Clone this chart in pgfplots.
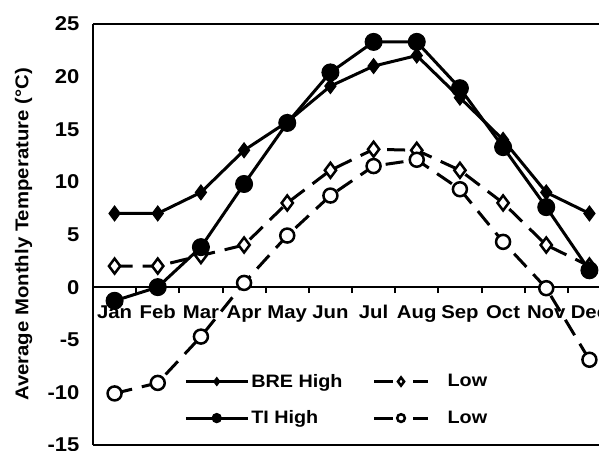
\documentclass[border=0pt]{standalone}
\usepackage{fontspec}
\setmainfont{Liberation Sans}[FakeStretch=1.1]
\usepackage{pgfplots}
\pgfplotsset{compat=1.18}
\pgfplotsset{dashlegend/.style={legend image code/.code={\draw[mark repeat=2,mark phase=2,##1,dash pattern=on 19pt off 20pt] plot coordinates {(0pt,0pt) (27pt,0pt) (54pt,0pt)};}}}
\begin{document}
\begin{tikzpicture}
\useasboundingbox (-93pt,-5pt) rectangle (506pt,445pt);
\clip (-93pt,-5pt) rectangle (506pt,445pt);
\begin{axis}[
 at={(0pt,0pt)}, anchor=south west,
 scale only axis, width=518pt, height=421pt,
 xmin=-0.5, xmax=11.5, ymin=-15, ymax=25,
 axis y line*=left, axis x line*=middle,
 axis line style={line width=2.5pt, black},
 /pgf/number format/assume math mode=true,
 xtick={0,...,11},
 xticklabels={Jan,Feb,Mar,Apr,May,Jun,Jul,Aug,Sep,Oct,Nov,Dec},
 minor xtick={0.5,1.5,...,10.5},
 major tick length=0pt, minor tick length=6pt,
 minor tick style={line width=2pt, black},
 tick align=outside,
 ytick={-15,-10,...,25},
 xticklabel style={font=\bfseries\fontsize{18.5}{20}\selectfont, text height=13pt, text depth=4pt, yshift=-15pt},
 yticklabel style={font=\bfseries\fontsize{20}{22}\selectfont, xshift=-10pt},
 ylabel={Average Monthly Temperature (°C)},
 ylabel style={font=\bfseries\fontsize{18.5}{21}\selectfont, at={(axis description cs:-0.134,0.5)}, anchor=center},
 legend columns=2,
 legend cell align=left,
 legend style={at={(rel axis cs:0.17,0.178)}, anchor=north west, draw=none, fill=none,
   font=\bfseries\fontsize{18}{20}\selectfont, row sep=18pt,
   /tikz/column 2/.style={column sep=28pt},
   /tikz/column 3/.style={column sep=16pt}},
 legend image code/.code={\draw[mark repeat=2,mark phase=2,#1] plot coordinates {(0pt,0pt) (31pt,0pt) (62pt,0pt)};},
 legend image post style={/tikz/every mark/.append style={scale=0.55}},
]
\draw[line width=2.5pt] (rel axis cs:0,1) -- (rel axis cs:1,1);
\draw[line width=2.5pt] (rel axis cs:0,0) -- (rel axis cs:1,0);
\addplot[black, line width=3pt, mark=diamond*, mark size=7.5pt, mark options={solid, fill=black, line width=1pt}]
 coordinates {(0,7) (1,7) (2,9) (3,13) (4,15.7) (5,19.1) (6,21) (7,22) (8,18) (9,14) (10,9) (11,7)};
\addlegendentry{BRE High}
\addplot[black, line width=3pt, dash pattern=on 18pt off 10pt, mark=diamond*, mark size=7.5pt, mark options={solid, fill=white, line width=2.5pt}, dashlegend]
 coordinates {(0,2) (1,2) (2,3) (3,4) (4,8) (5,11.1) (6,13.1) (7,13) (8,11.1) (9,8) (10,4) (11,2)};
\addlegendentry{Low}
\addplot[black, line width=3pt, mark=*, mark size=8.5pt, mark options={solid, fill=black, line width=1pt}]
 coordinates {(0,-1.3) (1,0) (2,3.8) (3,9.8) (4,15.6) (5,20.4) (6,23.3) (7,23.3) (8,18.9) (9,13.3) (10,7.6) (11,1.6)};
\addlegendentry{TI High}
\addplot[black, line width=3pt, dash pattern=on 18pt off 10pt, mark=*, mark size=7pt, mark options={solid, fill=white, line width=2.5pt}, dashlegend]
 coordinates {(0,-10.1) (1,-9.1) (2,-4.7) (3,0.4) (4,4.9) (5,8.7) (6,11.5) (7,12.1) (8,9.3) (9,4.3) (10,-0.1) (11,-6.9)};
\addlegendentry{Low}
\end{axis}
\end{tikzpicture}
\end{document}
